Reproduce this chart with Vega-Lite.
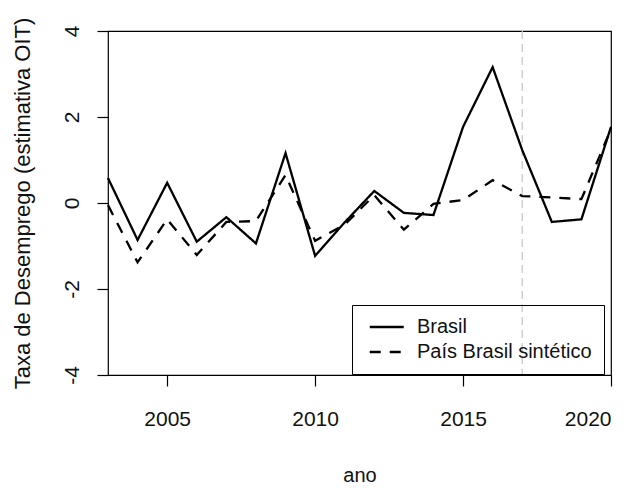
{
  "$schema": "https://vega.github.io/schema/vega-lite/v6.json",
  "width": 503,
  "height": 344,
  "autosize": {"type": "none"},
  "padding": {"left": 108, "top": 31, "right": 27, "bottom": 113},
  "background": "white",
  "config": {
    "view": {"stroke": "black", "strokeWidth": 1.2},
    "font": "Liberation Sans",
    "axis": {"grid": false, "domain": false, "tickColor": "black", "tickWidth": 1.2, "tickSize": 11, "labelColor": "#111", "titleColor": "#111", "labelFontSize": 21, "titleFontSize": 20, "titleFontWeight": "normal", "labelFont": "Liberation Sans", "titleFont": "Liberation Sans"}
  },
  "datasets": {
    "series": [
      {"ano": 2003, "serie": "Brasil", "valor": 0.58},
      {"ano": 2004, "serie": "Brasil", "valor": -0.86},
      {"ano": 2005, "serie": "Brasil", "valor": 0.47},
      {"ano": 2006, "serie": "Brasil", "valor": -0.9},
      {"ano": 2007, "serie": "Brasil", "valor": -0.33},
      {"ano": 2008, "serie": "Brasil", "valor": -0.94},
      {"ano": 2009, "serie": "Brasil", "valor": 1.16},
      {"ano": 2010, "serie": "Brasil", "valor": -1.23},
      {"ano": 2011, "serie": "Brasil", "valor": -0.45},
      {"ano": 2012, "serie": "Brasil", "valor": 0.28},
      {"ano": 2013, "serie": "Brasil", "valor": -0.23},
      {"ano": 2014, "serie": "Brasil", "valor": -0.28},
      {"ano": 2015, "serie": "Brasil", "valor": 1.77},
      {"ano": 2016, "serie": "Brasil", "valor": 3.16},
      {"ano": 2017, "serie": "Brasil", "valor": 1.23},
      {"ano": 2018, "serie": "Brasil", "valor": -0.44},
      {"ano": 2019, "serie": "Brasil", "valor": -0.38},
      {"ano": 2020, "serie": "Brasil", "valor": 1.77},
      {"ano": 2003, "serie": "País Brasil sintético", "valor": -0.05},
      {"ano": 2004, "serie": "País Brasil sintético", "valor": -1.38},
      {"ano": 2005, "serie": "País Brasil sintético", "valor": -0.38},
      {"ano": 2006, "serie": "País Brasil sintético", "valor": -1.21},
      {"ano": 2007, "serie": "País Brasil sintético", "valor": -0.44},
      {"ano": 2008, "serie": "País Brasil sintético", "valor": -0.42},
      {"ano": 2009, "serie": "País Brasil sintético", "valor": 0.65},
      {"ano": 2010, "serie": "País Brasil sintético", "valor": -0.88},
      {"ano": 2011, "serie": "País Brasil sintético", "valor": -0.5},
      {"ano": 2012, "serie": "País Brasil sintético", "valor": 0.18},
      {"ano": 2013, "serie": "País Brasil sintético", "valor": -0.62},
      {"ano": 2014, "serie": "País Brasil sintético", "valor": -0.02},
      {"ano": 2015, "serie": "País Brasil sintético", "valor": 0.07},
      {"ano": 2016, "serie": "País Brasil sintético", "valor": 0.53},
      {"ano": 2017, "serie": "País Brasil sintético", "valor": 0.16},
      {"ano": 2018, "serie": "País Brasil sintético", "valor": 0.13},
      {"ano": 2019, "serie": "País Brasil sintético", "valor": 0.09},
      {"ano": 2020, "serie": "País Brasil sintético", "valor": 1.72}
    ],
    "marco": [{"ano": 2017}]
  },
  "layer": [
    {
      "data": {"name": "marco"},
      "mark": {"type": "rule", "color": "#c8c8c8", "strokeWidth": 1.3, "strokeDash": [8, 5]},
      "encoding": {
        "x": {"field": "ano", "type": "quantitative", "scale": {"domain": [2003, 2020], "nice": false, "zero": false}}
      }
    },
    {
      "data": {"name": "series"},
      "mark": {"type": "line", "color": "black", "strokeWidth": 2.3},
      "encoding": {
        "x": {"field": "ano", "type": "quantitative", "title": "ano",
              "scale": {"domain": [2003, 2020], "nice": false, "zero": false},
              "axis": {"values": [2005, 2010, 2015, 2020], "format": "d", "labelPadding": 22, "titlePadding": 36}},
        "y": {"field": "valor", "type": "quantitative", "title": "Taxa de Desemprego (estimativa OIT)",
              "scale": {"domain": [-4, 4], "nice": false},
              "axis": {"values": [-4, -2, 0, 2, 4], "labelExpr": "'' + datum.value", "labelAngle": -90, "labelAlign": "center", "labelBaseline": "bottom", "labelPadding": 15, "titlePadding": 27, "titleFontSize": 22}},
        "strokeDash": {"field": "serie", "type": "nominal", "title": null,
              "scale": {"domain": ["Brasil", "País Brasil sintético"], "range": [[1, 0], [11, 9]]},
              "legend": {"orient": "none", "legendX": 244, "legendY": 274, "strokeColor": "black", "cornerRadius": 0, "padding": 12, "symbolType": "M-0.5,0H3.5", "symbolSize": 289, "symbolStrokeWidth": 2.3, "symbolStrokeColor": "black", "labelFontSize": 20, "labelLimit": 0, "labelColor": "#111", "labelFont": "Liberation Sans", "labelOffset": 33, "rowPadding": 5}}
      }
    }
  ]
}
